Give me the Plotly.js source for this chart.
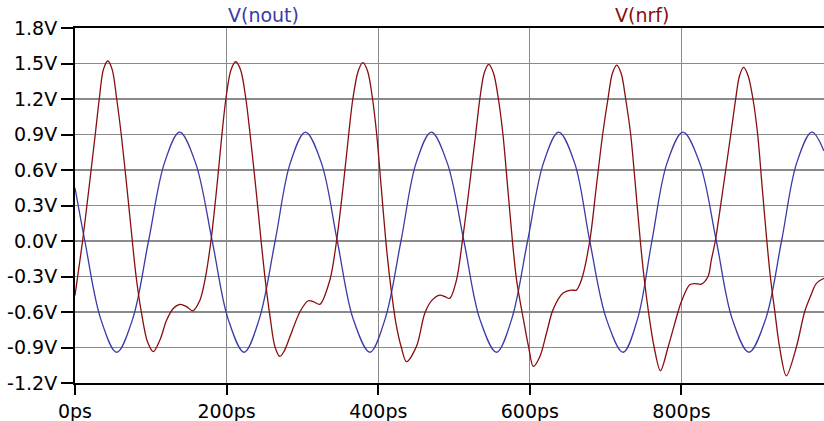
<!DOCTYPE html>
<html>
<head>
<meta charset="utf-8">
<script src="https://cdn.plot.ly/plotly-3.0.1.min.js"></script>
<style>html,body{margin:0;padding:0;background:#fff;}#chart{width:824px;height:421px;}</style>
</head>
<body>
<div id="chart"></div>
<script>
// V(nout) samples (time in ps, volts)
var noutT = [0, 13, 34, 55, 76, 97, 118, 138, 159, 181, 202, 223, 243, 264, 284, 304, 325, 346, 367, 389, 409, 430, 450, 470, 491, 513, 534, 556, 576, 597, 618, 638, 659, 679, 701, 723, 742, 761, 781, 802, 824, 846, 867, 889, 911, 932, 952, 972, 988];
var noutV = [0.45, 0.0, -0.66, -0.94, -0.66, 0.0, 0.66, 0.92, 0.66, 0.0, -0.66, -0.94, -0.66, 0.0, 0.66, 0.92, 0.66, 0.0, -0.66, -0.94, -0.66, 0.0, 0.66, 0.92, 0.66, 0.0, -0.66, -0.94, -0.66, 0.0, 0.66, 0.92, 0.66, 0.0, -0.66, -0.94, -0.66, 0.0, 0.66, 0.92, 0.66, 0.0, -0.66, -0.94, -0.66, 0.0, 0.66, 0.92, 0.76];

// V(nrf) samples (time in ps, volts)
var nrfT = [0, 3.5, 10, 18.5, 26.7, 32, 37.5, 43.3, 49, 55, 61, 68.5, 75.6, 80.6, 87.5, 95.5, 103.2, 112, 120.9, 129.6, 138.4, 147.3, 155.2, 164.8, 171.4,
  179.3, 187, 193.8, 199, 205.7, 212, 218.5, 225.4, 231, 238.5, 245.5, 251, 257.5, 264, 270.3, 276, 283.5, 296.6, 307.6, 315, 323, 336.2,
  345, 353.5, 361, 366.5, 373.5, 379.7, 386, 392.5, 398, 404, 410, 415.5, 423.5, 430.5, 437.3, 450.5, 461.4, 471, 481.2, 488, 494.4, 503.2,
  511, 520, 528.5, 534, 539.8, 545.8, 552, 558.5, 564.5, 570.8, 577, 582.5, 592, 598.5, 604.5, 613, 621.9, 630.6, 643.8, 654.8, 661.4, 668,
  679, 687.5, 696, 703, 708.8, 714.6, 720.5, 726.4, 733, 739.5, 745.7, 750.5, 756.5, 764, 772.2, 782.2, 795.4, 800, 810.8, 818, 826, 835, 839.4,
  844.6, 855, 865, 871.5, 876.5, 882, 888, 894.3, 900.5, 906.5, 912.6, 917.2, 923.2, 929.5, 938.3, 951.4, 962.4, 970, 977.8, 988];
var nrfV = [-0.46, -0.3, 0.0, 0.45, 0.9, 1.2, 1.45, 1.521, 1.45, 1.2, 0.9, 0.45, 0.0, -0.3, -0.6, -0.85, -0.935, -0.837, -0.668, -0.57, -0.535, -0.555, -0.59, -0.5, -0.33,
  0.0, 0.45, 0.9, 1.2, 1.445, 1.515, 1.445, 1.2, 0.9, 0.45, 0.0, -0.33, -0.65, -0.9, -0.975, -0.93, -0.81, -0.6, -0.505, -0.515, -0.535, -0.33,
  0.0, 0.45, 0.9, 1.2, 1.435, 1.507, 1.435, 1.2, 0.9, 0.45, 0.0, -0.33, -0.7, -0.9, -1.02, -0.89, -0.61, -0.5, -0.457, -0.47, -0.485, -0.33,
  0.0, 0.45, 0.9, 1.2, 1.42, 1.493, 1.42, 1.2, 0.9, 0.45, 0.0, -0.33, -0.68, -0.9, -1.06, -0.98, -0.78, -0.58, -0.44, -0.415, -0.415, -0.33,
  0.0, 0.45, 0.9, 1.2, 1.415, 1.487, 1.415, 1.2, 0.9, 0.45, 0.0, -0.3, -0.6, -0.9, -1.097, -0.9, -0.6, -0.51, -0.37, -0.36, -0.365, -0.3, -0.16,
  0.0, 0.45, 0.9, 1.2, 1.395, 1.468, 1.395, 1.2, 0.9, 0.45, 0.0, -0.3, -0.6, -0.9, -1.139, -0.9, -0.6, -0.47, -0.36, -0.316];

var yTickVals = [-1.2, -0.9, -0.6, -0.3, 0.0, 0.3, 0.6, 0.9, 1.2, 1.5, 1.8];
var yTickText = ['-1.2V', '-0.9V', '-0.6V', '-0.3V', '0.0V', '0.3V', '0.6V', '0.9V', '1.2V', '1.5V', '1.8V'];
var xTickVals = [0, 200, 400, 600, 800];
var xTickText = ['0ps', '200ps', '400ps', '600ps', '800ps'];
var seriesNames = ['V(nout)', 'V(nrf)'];

var blue = '#3a3aa8';
var red = '#870f0f';
var font = 'DejaVu Sans, Verdana, sans-serif';
var fs = 19;

var traces = [
  {x: noutT, y: noutV, type: 'scatter', mode: 'lines', name: seriesNames[0],
   line: {color: blue, width: 1.3, shape: 'spline', smoothing: 1}},
  {x: nrfT, y: nrfV, type: 'scatter', mode: 'lines', name: seriesNames[1],
   line: {color: red, width: 1.3, shape: 'spline', smoothing: 0.9}}
];

var layout = {
  width: 824, height: 421,
  margin: {l: 75, r: 0, t: 28, b: 38},
  paper_bgcolor: '#fff', plot_bgcolor: '#fff',
  showlegend: false,
  font: {family: font, size: fs, color: '#000'},
  xaxis: {
    range: [0, 988], tickvals: xTickVals, ticktext: xTickText,
    showgrid: true, gridcolor: '#8a8a8a', gridwidth: 1.2,
    showline: true, linecolor: '#000', linewidth: 2, mirror: true,
    ticks: 'outside', ticklen: 10, tickwidth: 2, tickcolor: '#000',
    zeroline: false, fixedrange: true,
    tickfont: {family: font, size: fs, color: '#000'}
  },
  yaxis: {
    range: [-1.2, 1.8], tickvals: yTickVals, ticktext: yTickText,
    showgrid: true, gridcolor: '#8a8a8a', gridwidth: 1.2,
    showline: true, linecolor: '#000', linewidth: 2,
    ticks: 'outside', ticklen: 12, tickwidth: 2, tickcolor: '#000',
    zeroline: false, fixedrange: true,
    tickfont: {family: font, size: fs, color: '#000'}
  },
  annotations: [
    {text: seriesNames[0], xref: 'x', yref: 'paper', x: 249, y: 1, yanchor: 'bottom', yshift: 0,
     showarrow: false, font: {family: font, size: fs, color: blue}},
    {text: seriesNames[1], xref: 'x', yref: 'paper', x: 748.5, y: 1, yanchor: 'bottom', yshift: 0,
     showarrow: false, font: {family: font, size: fs, color: red}}
  ]
};

Plotly.newPlot('chart', traces, layout, {displayModeBar: false, staticPlot: true});
</script>
</body>
</html>
